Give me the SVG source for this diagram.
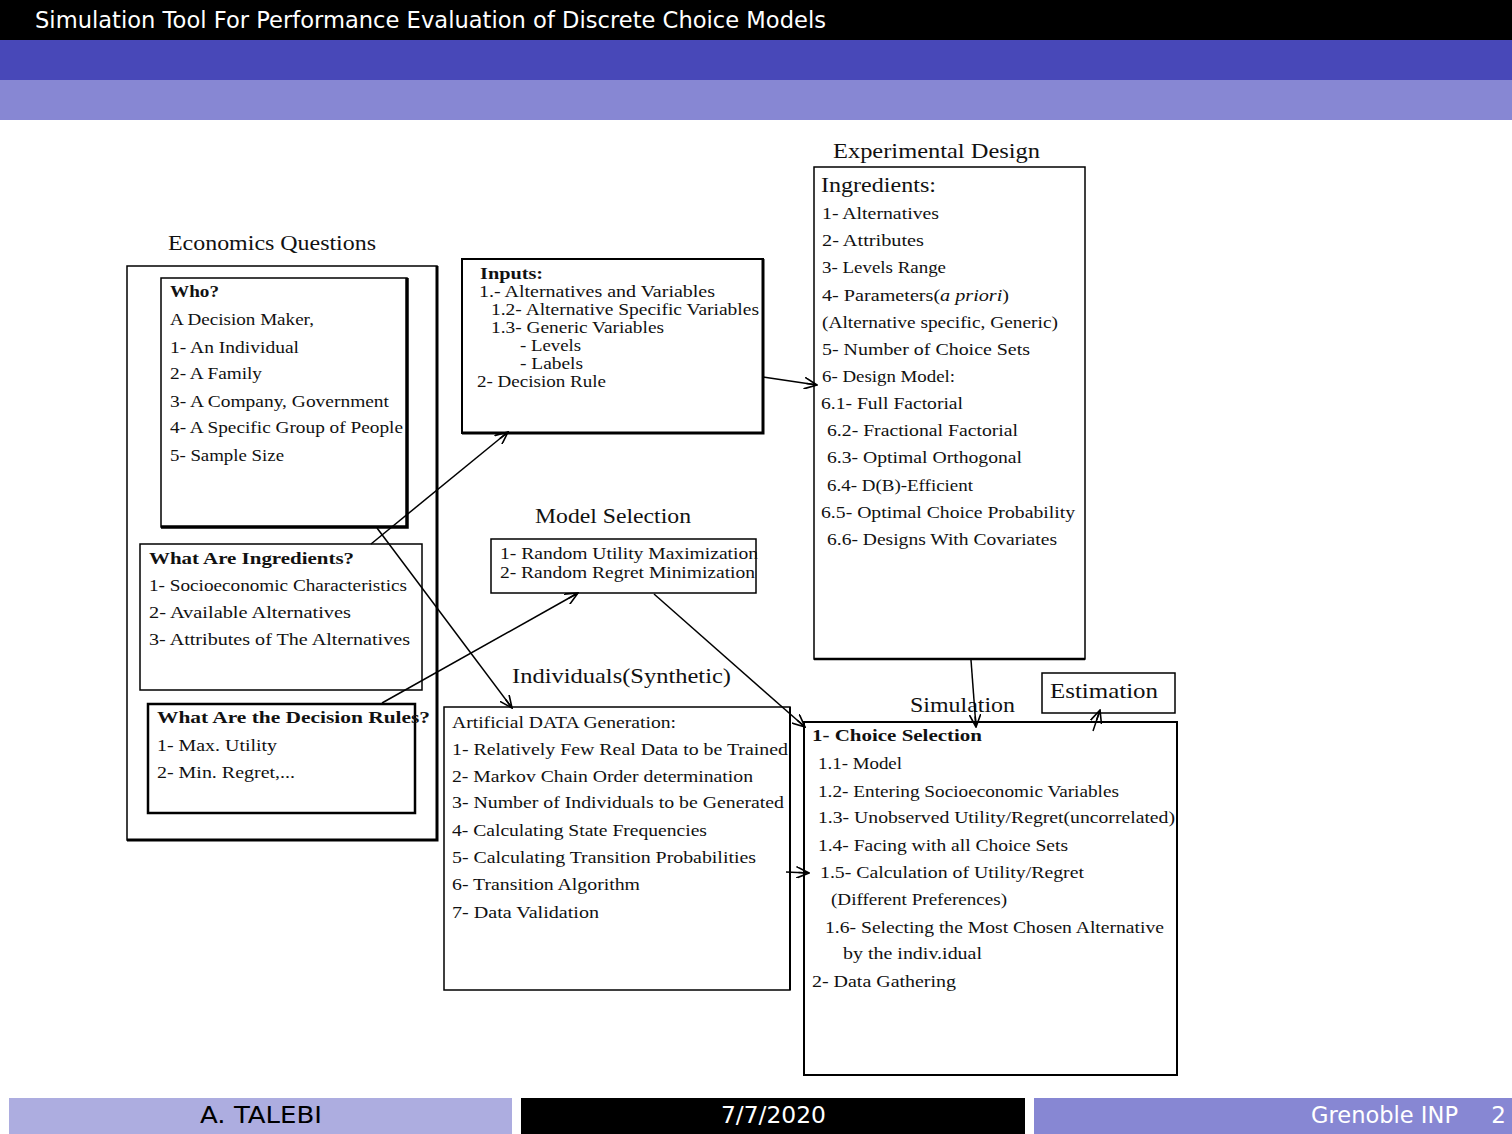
<svg xmlns="http://www.w3.org/2000/svg" width="1512" height="1134" viewBox="0 0 1512 1134">
<defs>
<style>
.t{font-family:"Liberation Serif","Times New Roman",serif;font-size:17px;fill:#111}
.s{font-family:"Liberation Serif","Times New Roman",serif;font-size:16px;fill:#111}
.b{font-weight:bold}
.h{font-family:"Liberation Serif","Times New Roman",serif;font-size:22px;fill:#111}
.box{fill:#fff;stroke:#000;stroke-width:1.5}
.thk{stroke:#000;stroke-width:3;fill:none}
.con{stroke:#000;stroke-width:1.5;fill:none;marker-end:url(#ar)}
.ft{font-family:"DejaVu Sans","Liberation Sans",sans-serif;font-size:23px}
</style>
<marker id="ar" viewBox="0 0 12 10" refX="11" refY="5" markerWidth="14" markerHeight="12" markerUnits="userSpaceOnUse" orient="auto">
<path d="M0,0 L11,5 L0,10 M2,5 L11,5" fill="none" stroke="#000" stroke-width="1.4"/>
</marker>
</defs>
<rect width="1512" height="1134" fill="#fff"/>
<rect x="0" y="0" width="1512" height="40" fill="#000"/>
<rect x="0" y="40" width="1512" height="40" fill="#4848b8"/>
<rect x="0" y="80" width="1512" height="40" fill="#8787d3"/>
<text x="35" y="28" font-family="DejaVu Sans,Liberation Sans,sans-serif" font-size="23" fill="#fff" textLength="791" lengthAdjust="spacingAndGlyphs">Simulation Tool For Performance Evaluation of Discrete Choice Models</text>

<g id="econ">
<text class="h" x="168" y="250" textLength="208" lengthAdjust="spacingAndGlyphs">Economics Questions</text>
<rect class="box" x="127" y="266" width="310" height="574"/>
<path class="thk" d="M437,266 V840 H127"/>
</g>
<g id="who">
<rect class="box" x="161" y="278" width="246" height="249"/>
<path d="M407,278 V527 H161" stroke="#000" stroke-width="3.5" fill="none"/>
<text class="t b" x="170" y="297" textLength="49" lengthAdjust="spacingAndGlyphs">Who?</text>
<text class="t" x="170" y="325" textLength="144" lengthAdjust="spacingAndGlyphs">A Decision Maker,</text>
<text class="t" x="170" y="353" textLength="129" lengthAdjust="spacingAndGlyphs">1- An Individual</text>
<text class="t" x="170" y="379" textLength="92" lengthAdjust="spacingAndGlyphs">2- A Family</text>
<text class="t" x="170" y="407" textLength="219" lengthAdjust="spacingAndGlyphs">3- A Company, Government</text>
<text class="t" x="170" y="433" textLength="233" lengthAdjust="spacingAndGlyphs">4- A Specific Group of People</text>
<text class="t" x="170" y="461" textLength="114" lengthAdjust="spacingAndGlyphs">5- Sample Size</text>
</g>
<g id="ingr">
<rect class="box" x="140" y="544" width="282" height="146"/>
<text class="t b" x="149" y="564" textLength="205" lengthAdjust="spacingAndGlyphs">What Are Ingredients?</text>
<text class="t" x="149" y="591" textLength="258" lengthAdjust="spacingAndGlyphs">1- Socioeconomic Characteristics</text>
<text class="t" x="149" y="618" textLength="202" lengthAdjust="spacingAndGlyphs">2- Available  Alternatives</text>
<text class="t" x="149" y="645" textLength="261" lengthAdjust="spacingAndGlyphs">3- Attributes of The Alternatives</text>
</g>
<g id="rules">
<rect x="148" y="704" width="267" height="109" fill="#fff" stroke="#000" stroke-width="2.5"/>
<text class="t b" x="157" y="723" textLength="273" lengthAdjust="spacingAndGlyphs">What Are the Decision Rules?</text>
<text class="t" x="157" y="751" textLength="120" lengthAdjust="spacingAndGlyphs">1- Max. Utility</text>
<text class="t" x="157" y="778" textLength="138" lengthAdjust="spacingAndGlyphs">2- Min. Regret,...</text>
</g>
<g id="inputs">
<rect x="462" y="259" width="301" height="174" fill="#fff" stroke="#000" stroke-width="2"/>
<path d="M763,259 V433 H462" stroke="#000" stroke-width="3" fill="none"/>
<text class="s b" x="480" y="279" textLength="63" lengthAdjust="spacingAndGlyphs">Inputs:</text>
<text class="s" x="479" y="297" textLength="236" lengthAdjust="spacingAndGlyphs">1.- Alternatives and Variables</text>
<text class="s" x="491" y="315" textLength="268" lengthAdjust="spacingAndGlyphs">1.2- Alternative Specific Variables</text>
<text class="s" x="491" y="333" textLength="173" lengthAdjust="spacingAndGlyphs">1.3- Generic Variables</text>
<text class="s" x="520" y="351" textLength="61" lengthAdjust="spacingAndGlyphs">- Levels</text>
<text class="s" x="520" y="369" textLength="63" lengthAdjust="spacingAndGlyphs">- Labels</text>
<text class="s" x="477" y="387" textLength="129" lengthAdjust="spacingAndGlyphs">2- Decision Rule</text>
</g>
<g id="expdesign">
<text class="h" x="833" y="158" textLength="207" lengthAdjust="spacingAndGlyphs">Experimental Design</text>
<rect class="box" x="814" y="167" width="271" height="492"/>
<path d="M814,659 H1085" stroke="#000" stroke-width="2.5"/>
<text class="h" x="821" y="192" textLength="115" lengthAdjust="spacingAndGlyphs">Ingredients:</text>
<text class="s" x="822" y="219" textLength="117" lengthAdjust="spacingAndGlyphs">1- Alternatives</text>
<text class="s" x="822" y="246" textLength="102" lengthAdjust="spacingAndGlyphs">2- Attributes</text>
<text class="s" x="822" y="273" textLength="124" lengthAdjust="spacingAndGlyphs">3- Levels Range</text>
<text class="s" x="822" y="301" textLength="187" lengthAdjust="spacingAndGlyphs">4- Parameters(<tspan font-style="italic">a priori</tspan>)</text>
<text class="s" x="822" y="328" textLength="236" lengthAdjust="spacingAndGlyphs">(Alternative specific, Generic)</text>
<text class="s" x="822" y="355" textLength="208" lengthAdjust="spacingAndGlyphs">5- Number of  Choice Sets</text>
<text class="s" x="822" y="382" textLength="133" lengthAdjust="spacingAndGlyphs">6- Design Model:</text>
<text class="s" x="821" y="409" textLength="142" lengthAdjust="spacingAndGlyphs">6.1- Full Factorial</text>
<text class="s" x="827" y="436" textLength="191" lengthAdjust="spacingAndGlyphs">6.2- Fractional Factorial</text>
<text class="s" x="827" y="463" textLength="195" lengthAdjust="spacingAndGlyphs">6.3- Optimal Orthogonal</text>
<text class="s" x="827" y="491" textLength="146" lengthAdjust="spacingAndGlyphs">6.4- D(B)-Efficient</text>
<text class="s" x="821" y="518" textLength="254" lengthAdjust="spacingAndGlyphs">6.5- Optimal Choice Probability</text>
<text class="s" x="827" y="545" textLength="230" lengthAdjust="spacingAndGlyphs">6.6- Designs With Covariates</text>
</g>
<g id="modelsel">
<text class="h" x="535" y="523" textLength="156" lengthAdjust="spacingAndGlyphs">Model Selection</text>
<rect class="box" x="491" y="539" width="265" height="54"/>
<text class="s" x="500" y="559" textLength="258" lengthAdjust="spacingAndGlyphs">1- Random Utility Maximization</text>
<text class="s" x="500" y="578" textLength="255" lengthAdjust="spacingAndGlyphs">2- Random Regret Minimization</text>
</g>
<g id="individuals">
<text class="h" x="512" y="683" textLength="219" lengthAdjust="spacingAndGlyphs">Individuals(Synthetic)</text>
<rect class="box" x="444" y="707" width="346" height="283"/>
<path d="M790,707 V990" stroke="#000" stroke-width="2"/>
<text class="s" x="452" y="728" textLength="224" lengthAdjust="spacingAndGlyphs">Artificial DATA Generation:</text>
<text class="s" x="452" y="755" textLength="336" lengthAdjust="spacingAndGlyphs">1- Relatively Few Real Data to be Trained</text>
<text class="s" x="452" y="782" textLength="301" lengthAdjust="spacingAndGlyphs">2- Markov Chain Order determination</text>
<text class="s" x="452" y="808" textLength="332" lengthAdjust="spacingAndGlyphs">3- Number of Individuals to be Generated</text>
<text class="s" x="452" y="836" textLength="255" lengthAdjust="spacingAndGlyphs">4- Calculating State Frequencies</text>
<text class="s" x="452" y="863" textLength="304" lengthAdjust="spacingAndGlyphs">5- Calculating Transition Probabilities</text>
<text class="s" x="452" y="890" textLength="188" lengthAdjust="spacingAndGlyphs">6- Transition Algorithm</text>
<text class="s" x="452" y="918" textLength="147" lengthAdjust="spacingAndGlyphs">7- Data Validation</text>
</g>
<g id="estimation">
<rect class="box" x="1042" y="673" width="133" height="40"/>
<text class="h" x="1050" y="698" textLength="108" lengthAdjust="spacingAndGlyphs">Estimation</text>
</g>
<g id="simulation">
<text class="h" x="910" y="712" textLength="105" lengthAdjust="spacingAndGlyphs">Simulation</text>
<rect x="804" y="722" width="373" height="353" fill="none" stroke="#000" stroke-width="2"/>
<text class="s b" x="812" y="741" textLength="170" lengthAdjust="spacingAndGlyphs">1- Choice Selection</text>
<text class="s" x="818" y="769" textLength="84" lengthAdjust="spacingAndGlyphs">1.1- Model</text>
<text class="s" x="818" y="797" textLength="301" lengthAdjust="spacingAndGlyphs">1.2- Entering Socioeconomic Variables</text>
<text class="s" x="818" y="823" textLength="357" lengthAdjust="spacingAndGlyphs">1.3- Unobserved Utility/Regret(uncorrelated)</text>
<text class="s" x="818" y="851" textLength="250" lengthAdjust="spacingAndGlyphs">1.4- Facing with all Choice Sets</text>
<text class="s" x="820" y="878" textLength="264" lengthAdjust="spacingAndGlyphs">1.5- Calculation of Utility/Regret</text>
<text class="s" x="831" y="905" textLength="176" lengthAdjust="spacingAndGlyphs">(Different Preferences)</text>
<text class="s" x="825" y="933" textLength="339" lengthAdjust="spacingAndGlyphs">1.6- Selecting the Most Chosen Alternative</text>
<text class="s" x="843" y="959" textLength="139" lengthAdjust="spacingAndGlyphs">by the indiv.idual</text>
<text class="s" x="812" y="987" textLength="144" lengthAdjust="spacingAndGlyphs">2- Data Gathering</text>
</g>
<g id="connectors">
<path class="con" d="M371,544 L508,432"/>
<path class="con" d="M377,528 L512,708"/>
<path class="con" d="M382,703 L578,593"/>
<path class="con" d="M763,377 L817,385"/>
<path class="con" d="M654,594 L805,727"/>
<path class="con" d="M971,660 L976,727"/>
<path class="con" d="M1093,731 L1100,710"/>
<path class="con" d="M786,872 L809,873"/>
</g>
<rect x="9" y="1098" width="503" height="36" fill="#adade0"/>
<rect x="521" y="1098" width="504" height="36" fill="#000"/>
<rect x="1034" y="1098" width="478" height="36" fill="#8787d3"/>
<text class="ft" x="200" y="1123" fill="#000" textLength="122" lengthAdjust="spacingAndGlyphs">A. TALEBI</text>
<text class="ft" x="721" y="1123" fill="#fff" textLength="105" lengthAdjust="spacingAndGlyphs">7/7/2020</text>
<text class="ft" x="1311" y="1123" fill="#fff" textLength="147" lengthAdjust="spacingAndGlyphs">Grenoble INP</text>
<text class="ft" x="1506" y="1123" text-anchor="end" fill="#fff">2</text>
</svg>
